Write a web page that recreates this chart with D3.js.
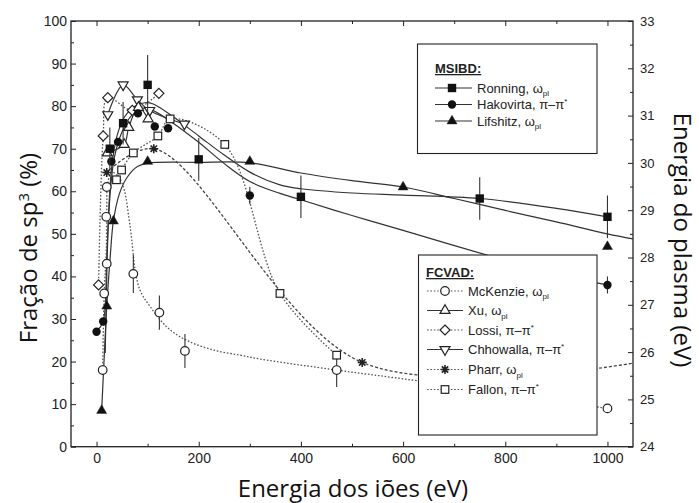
<!DOCTYPE html>
<html><head><meta charset="utf-8">
<script src="https://cdn.jsdelivr.net/npm/d3@7"></script>
<style>body{margin:0;background:#fff} svg{display:block}</style>
</head><body><svg id="c" width="699" height="503"></svg>
<script>
// ---------- tick labels ----------
const leftTicks = [0,10,20,30,40,50,60,70,80,90,100];
const rightTicks = [24,25,26,27,28,29,30,31,32,33];
const bottomTicks = [0,200,400,600,800,1000];

// ---------- data: [energy eV, sp3 %, error] ----------
const ronning   = [[26,70,5],[52,76,5],[100,85,7],[200,67.5,5],[400,58.7,5],[750,58.3,5],[1000,54,5]];
const hakovirta = [[0,27,0],[13,29.4,0],[29,67,0],[42,71.6,0],[81,78.3,0],[114,75.2,0],[140,74.8,0],[300,59,2],[1000,38,2]];
const lifshitz  = [[10,8.5,0],[20,33,0],[33,53,0],[100,67,0],[300,67,0],[600,61,0],[1000,47,0]];
const mckenzie  = [[12,18,0],[15,36,0],[20,43,0],[19,54,0],[20,61,0],[72,40.6,4.5],[123,31.5,4],[173,22.5,4],[470,18,4],[1000,9,0]];
const xu        = [[21,69,0],[54,71,0],[63,75,0],[82,79.7,0],[101,77,0]];
const lossi     = [[4,38,0],[13,73,0],[22,82,0],[70,79,0],[122,83,0]];
const chhowalla = [[22,78,0],[52,85,0],[80,81.5,0],[104,79,0],[172,75.8,0]];
const pharr     = [[20,64.4,0],[112,70,0],[520,19.8,0]];
const fallon    = [[39,62.7,0],[49,65,0],[72,69,0],[120,73,0],[144,77,0],[251,71,0],[359,36,0],[470,21.5,0]];

// ---------- fitted / guide curves: [eV, %] ----------
const ronningFit   = [[17,22],[20,40],[24,56],[30,66],[40,73],[55,77.5],[75,80],[95,80.8],[111,80.5],[150,77.5],[200,73],[250,68.5],[300,64.5],[359,61.5],[400,60.6],[500,59.6],[600,59.1],[750,58.3],[900,56],[1000,54]];
const hakovirtaFit = [[0,27],[13,29.5],[20,45],[27,60],[35,68],[50,74],[70,78],[90,79.5],[110,79],[150,76],[200,71.5],[250,66.5],[300,62.3],[359,59.5],[400,58],[500,54.3],[600,50.8],[776,44.6],[900,40.5],[1000,38]];
const lifshitzFit  = [[10,8.5],[15,21],[20,33],[27,45],[33,53],[45,59.5],[60,63.3],[80,65.8],[100,66.6],[200,66.8],[300,66.7],[400,64.3],[500,62.5],[600,61],[700,58.3],[800,55.5],[900,52.8],[1000,50],[1050,48.8]];
const mckenzieFit  = [[12,18],[15,36],[19,46],[20,56],[22,62],[30,64.5],[45,63],[55,60],[63,54],[69,48.6],[75,42],[85,36.8],[105,32.9],[137,28.2],[176,25],[229,22.7],[281,21.5],[320,20.6],[470,18],[627,15.5],[1000,9]];
const pharrLine    = [[20,64.4],[112,70],[520,19.8],[1050,19.6]];

const svg = d3.select('#c');
const L = 71, R = 633, T = 21, B = 446.7;
const x = d3.scaleLinear().domain([-50,1050]).range([L,R]);
const y = d3.scaleLinear().domain([0,100]).range([B,T]);
const y2 = d3.scaleLinear().domain([24,33]).range([B,T]);

const INK = '#222';
const tickFont = '"Liberation Sans", Arial, sans-serif';
const titleFont = '"Open Sans", sans-serif';

function styleAxis(g, fs){
  g.select('.domain').remove();
  g.selectAll('line').attr('stroke',INK).attr('stroke-width',1);
  g.selectAll('text').attr('font-family',tickFont).attr('font-size',fs||14).attr('fill',INK);
}

// axes
svg.append('g').attr('transform',`translate(${L},0)`)
  .call(d3.axisLeft(y).tickValues(leftTicks).tickFormat(d3.format('d')).tickSizeInner(-5).tickSizeOuter(0).tickPadding(4)).call(styleAxis);
svg.append('g').attr('transform',`translate(${L},0)`)
  .call(d3.axisLeft(y).tickValues(d3.range(5,100,10)).tickSize(-3).tickFormat('')).call(styleAxis);
svg.append('g').attr('transform',`translate(0,${B})`)
  .call(d3.axisBottom(x).tickValues(bottomTicks).tickFormat(d3.format('d')).tickSizeInner(-5).tickSizeOuter(0).tickPadding(6)).call(styleAxis);
svg.append('g').attr('transform',`translate(0,${B})`)
  .call(d3.axisBottom(x).tickValues([100,300,500,700,900]).tickSize(-3).tickFormat('')).call(styleAxis);
svg.append('g').attr('transform',`translate(0,${T})`)
  .call(d3.axisTop(x).tickValues(bottomTicks).tickSize(-5).tickFormat('')).call(styleAxis);
svg.append('g').attr('transform',`translate(0,${T})`)
  .call(d3.axisTop(x).tickValues([100,300,500,700,900]).tickSize(-3).tickFormat('')).call(styleAxis);
svg.append('g').attr('transform',`translate(${R},0)`)
  .call(d3.axisRight(y2).tickValues(rightTicks).tickFormat(d3.format('d')).tickSizeInner(-5).tickSizeOuter(0).tickPadding(7)).call(g=>styleAxis(g,13));
svg.append('g').attr('transform',`translate(${R},0)`)
  .call(d3.axisRight(y2).tickValues(d3.range(24.5,33,1)).tickSize(-3).tickFormat('')).call(styleAxis);

svg.append('rect').attr('x',L).attr('y',T).attr('width',R-L).attr('height',B-T)
  .attr('fill','none').attr('stroke',INK).attr('stroke-width',1.3);

// curves
const plot = svg.append('g');
const lineGen = d3.line().x(d=>x(d[0])).y(d=>y(d[1])).curve(d3.curveCatmullRom.alpha(0.5));
function drawLine(data, style){
  const p = plot.append('path').datum(data).attr('d',lineGen).attr('fill','none');
  if(style==='solid') p.attr('stroke','#333').attr('stroke-width',1.2);
  else if(style==='dash') p.attr('stroke','#444').attr('stroke-width',1.3).attr('stroke-dasharray','3,2');
  else p.attr('stroke','#555').attr('stroke-width',1.3).attr('stroke-dasharray','1.6,1.8');
}
drawLine(ronningFit,'solid');
drawLine(hakovirtaFit,'solid');
drawLine(lifshitzFit,'solid');
drawLine(xu.map(d=>[d[0],d[1]]),'solid');
drawLine(chhowalla.map(d=>[d[0],d[1]]),'solid');
drawLine(mckenzieFit,'dot');
drawLine(lossi.map(d=>[d[0],d[1]]),'dot');
drawLine(fallon.map(d=>[d[0],d[1]]),'dot');
drawLine(pharrLine,'dash');

// markers
function marker(g, type, cx, cy){
  const filled = '#111', open = '#fff';
  const sw = 1.2;
  switch(type){
    case 'squareF': g.append('rect').attr('x',cx-4.2).attr('y',cy-4.2).attr('width',8.4).attr('height',8.4).attr('fill',filled); break;
    case 'squareO': g.append('rect').attr('x',cx-3.8).attr('y',cy-3.8).attr('width',7.6).attr('height',7.6).attr('fill',open).attr('stroke',INK).attr('stroke-width',sw); break;
    case 'circleF': g.append('circle').attr('cx',cx).attr('cy',cy).attr('r',4.2).attr('fill',filled); break;
    case 'circleO': g.append('circle').attr('cx',cx).attr('cy',cy).attr('r',4.3).attr('fill',open).attr('stroke',INK).attr('stroke-width',sw); break;
    case 'triF': case 'triO': {
      const s=10; g.append('path').attr('d',`M${cx},${cy-s*0.577}L${cx+s/2},${cy+s*0.289}L${cx-s/2},${cy+s*0.289}Z`)
        .attr('fill',type==='triF'?filled:open).attr('stroke',INK).attr('stroke-width',type==='triF'?0.5:sw); break; }
    case 'triD': { const s=10; g.append('path').attr('d',`M${cx},${cy+s*0.577}L${cx+s/2},${cy-s*0.289}L${cx-s/2},${cy-s*0.289}Z`)
        .attr('fill',open).attr('stroke',INK).attr('stroke-width',sw); break; }
    case 'diamond': { const h=5; g.append('path').attr('d',`M${cx},${cy-h}L${cx+h},${cy}L${cx},${cy+h}L${cx-h},${cy}Z`)
        .attr('fill',open).attr('stroke',INK).attr('stroke-width',sw); break; }
    case 'aster': { const r=4.5, a=r*0.707;
      g.append('path').attr('d',`M${cx-r},${cy}H${cx+r}M${cx},${cy-r}V${cy+r}M${cx-a},${cy-a}L${cx+a},${cy+a}M${cx-a},${cy+a}L${cx+a},${cy-a}`)
        .attr('stroke',INK).attr('stroke-width',1.6).attr('fill','none'); break; }
  }
}
function drawSeries(data, type){
  const g = plot.append('g');
  data.filter(d=>d[2]>0).forEach(d=>{
    g.append('line').attr('x1',x(d[0])).attr('x2',x(d[0])).attr('y1',y(d[1]-d[2])).attr('y2',y(d[1]+d[2]))
      .attr('stroke','#333').attr('stroke-width',1.1);
  });
  data.forEach(d=>marker(g,type,x(d[0]),y(d[1])));
}
drawSeries(mckenzie,'circleO');
drawSeries(fallon,'squareO');
drawSeries(lossi,'diamond');
drawSeries(chhowalla,'triD');
drawSeries(xu,'triO');
drawSeries(pharr,'aster');
drawSeries(lifshitz,'triF');
drawSeries(hakovirta,'circleF');
drawSeries(ronning,'squareF');

// legends
const legFont = '"Liberation Sans", Arial, sans-serif';
function legendBox(x0,y0,x1,y1,title,tx,ty,entries,lx0,lx1,mx,textX){
  const g = svg.append('g');
  g.append('rect').attr('x',x0).attr('y',y0).attr('width',x1-x0).attr('height',y1-y0)
    .attr('fill','#fff').attr('stroke',INK).attr('stroke-width',1.1);
  g.append('text').attr('x',tx).attr('y',ty).text(title).attr('font-family',legFont).attr('font-size',13)
    .attr('font-weight','bold').attr('text-decoration','underline').attr('fill',INK);
  entries.forEach(e=>{
    const ln = g.append('line').attr('x1',lx0).attr('x2',lx1).attr('y1',e.y).attr('y2',e.y).attr('stroke-width',1.2);
    if(e.style==='solid') ln.attr('stroke','#333'); else ln.attr('stroke','#555').attr('stroke-dasharray','1.6,1.8');
    marker(g,e.type,mx,e.y);
    const t = g.append('text').attr('x',textX).attr('y',e.y+4.5).attr('font-family',legFont).attr('font-size',13).attr('fill',INK);
    t.append('tspan').text(e.name+', ');
    if(e.kind==='w'){
      t.append('tspan').text('ω');
      t.append('tspan').attr('dy',3.5).attr('font-size',8).text('pl');
    } else {
      t.append('tspan').text('π–π');
      t.append('tspan').attr('dy',-5).attr('font-size',8).text('*');
    }
  });
}
legendBox(417.5,44,597,153.5,'MSIBD:',435,73,[
  {name:'Ronning',kind:'w',type:'squareF',style:'solid',y:88},
  {name:'Hakovirta',kind:'p',type:'circleF',style:'solid',y:104.5},
  {name:'Lifshitz',kind:'w',type:'triF',style:'solid',y:121}
],435,472,452,477);
legendBox(418.5,255,597,435,'FCVAD:',426,277,[
  {name:'McKenzie',kind:'w',type:'circleO',style:'dot',y:291},
  {name:'Xu',kind:'w',type:'triO',style:'solid',y:310.5},
  {name:'Lossi',kind:'p',type:'diamond',style:'dot',y:330},
  {name:'Chhowalla',kind:'p',type:'triD',style:'solid',y:349.5},
  {name:'Pharr',kind:'w',type:'aster',style:'dot',y:369.5},
  {name:'Fallon',kind:'p',type:'squareO',style:'dot',y:389.5}
],427,463,445,468);

// axis titles (one common size, fitted on the bottom title)
const bt = svg.append('text').attr('x',353).attr('y',497).attr('text-anchor','middle')
  .attr('font-family',titleFont).attr('fill','#111').attr('font-size',20).text('Energia dos iões (eV)');
const titleSize = Math.min(24, 20*238/bt.node().getComputedTextLength());
bt.attr('font-size',titleSize);
const lt = svg.append('text').attr('transform','translate(37,248) rotate(-90)').attr('text-anchor','middle')
  .attr('font-family',titleFont).attr('fill','#111').attr('font-size',titleSize);
lt.append('tspan').text('Fração de sp');
lt.append('tspan').attr('dy',-8).attr('font-size',titleSize*0.62).text('3');
lt.append('tspan').attr('dy',8).text(' (%)');
const rt = svg.append('text').attr('transform','translate(674,240) rotate(90)').attr('text-anchor','middle')
  .attr('font-family',titleFont).attr('fill','#111').attr('font-size',titleSize).text('Energia do plasma (eV)');
</script></body></html>
